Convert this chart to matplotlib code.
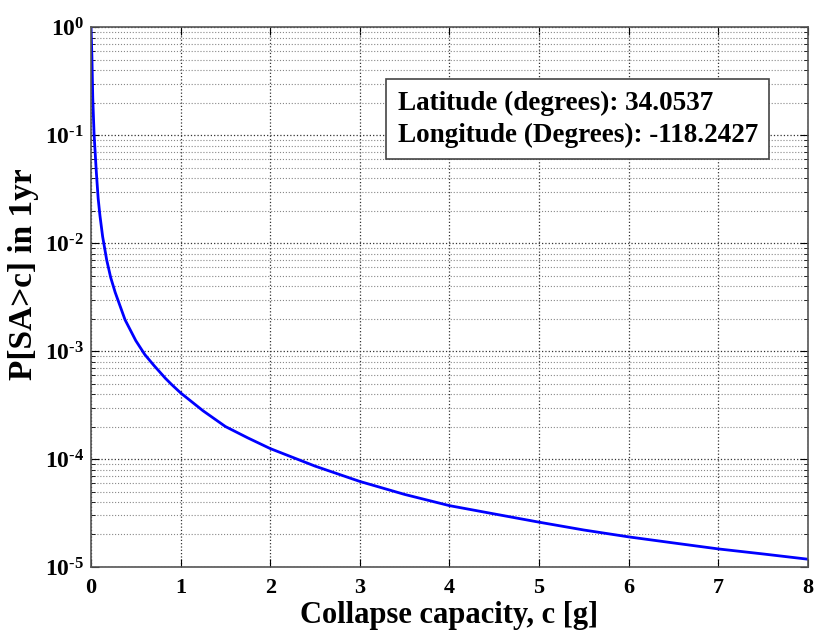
import matplotlib
matplotlib.use("Agg")
import matplotlib.pyplot as plt
from matplotlib.ticker import LogLocator, NullFormatter

# values
capacity = [0, 0.01, 0.02, 0.035, 0.06, 0.08, 0.1, 0.13, 0.175, 0.22, 0.27, 0.38, 0.5, 0.6,
            0.7, 0.83, 0.9, 1.0, 1.25, 1.5, 1.75, 2.0, 2.5, 3.0, 3.5, 4.0, 4.5, 5.0, 5.5,
            6.0, 6.5, 7.0, 7.5, 8.0]
prob = [1.0, 0.55, 0.22, 0.1, 0.045, 0.026, 0.018, 0.0115, 7.0e-3, 4.8e-3, 3.5e-3, 1.95e-3,
        1.25e-3, 9.3e-4, 7.4e-4, 5.6e-4, 4.9e-4, 4.1e-4, 2.8e-4, 2.0e-4, 1.57e-4, 1.25e-4,
        8.6e-5, 6.2e-5, 4.7e-5, 3.7e-5, 3.1e-5, 2.6e-5, 2.2e-5, 1.9e-5, 1.67e-5, 1.47e-5,
        1.32e-5, 1.18e-5]

xticks = [0, 1, 2, 3, 4, 5, 6, 7, 8]
yticks = [1e-5, 1e-4, 1e-3, 1e-2, 1e-1, 1e0]
ytick_labels = [r"$10^{\text{-}5}$", r"$10^{\text{-}4}$", r"$10^{\text{-}3}$",
                r"$10^{\text{-}2}$", r"$10^{\text{-}1}$", r"$10^{0}$"]
info = "Latitude (degrees): 34.0537\nLongitude (Degrees): -118.2427"

plt.rcParams["font.family"] = "Liberation Serif"
plt.rcParams["font.weight"] = "bold"
plt.rcParams["mathtext.fontset"] = "custom"
plt.rcParams["mathtext.rm"] = "Liberation Serif:bold"
plt.rcParams["mathtext.bf"] = "Liberation Serif:bold"
plt.rcParams["mathtext.default"] = "bf"

fig = plt.figure(figsize=(8.16, 6.34), dpi=100)
ax = fig.add_axes([0.1115, 0.1057, 0.8787, 0.8513])

ax.plot(capacity, prob, color="#0000ff", linewidth=2)

ax.set_yscale("log")
ax.set_xlim(0, 8)
ax.set_ylim(1e-5, 1)
ax.set_xticks(xticks)
ax.set_xticklabels([str(t) for t in xticks])
ax.set_yticks(yticks)
ax.set_yticklabels(ytick_labels)
ax.yaxis.set_minor_locator(LogLocator(base=10, subs=range(2, 10)))
ax.yaxis.set_minor_formatter(NullFormatter())

ax.tick_params(axis="both", which="both", direction="in", top=True, right=True)
ax.tick_params(axis="x", which="major", labelsize=16, length=6, pad=8)
ax.tick_params(axis="y", which="major", labelsize=17, length=6, pad=5)
ax.tick_params(axis="y", which="minor", length=3)

ax.grid(True, which="major", axis="both", linestyle=":", color="#333333", linewidth=0.9)
ax.grid(True, which="minor", axis="y", linestyle=":", color="#888888", linewidth=0.8)

for s in ax.spines.values():
    s.set_color("#555555")
    s.set_linewidth(1.2)

ax.set_xlabel("Collapse capacity, c [g]", fontsize=22, fontweight="bold", labelpad=2)
ax.set_ylabel("P[SA>c] in 1yr", fontsize=24, fontweight="bold")
ax.yaxis.set_label_coords(-0.073, 0.543)

ax.text(0.428, 0.830, info, transform=ax.transAxes, fontsize=19.5, fontweight="bold",
        va="center", ha="left", linespacing=1.35,
        bbox=dict(boxstyle="square,pad=0.42", facecolor="white", edgecolor="#444444", linewidth=1.2))

fig.savefig("out.png", dpi=100)
